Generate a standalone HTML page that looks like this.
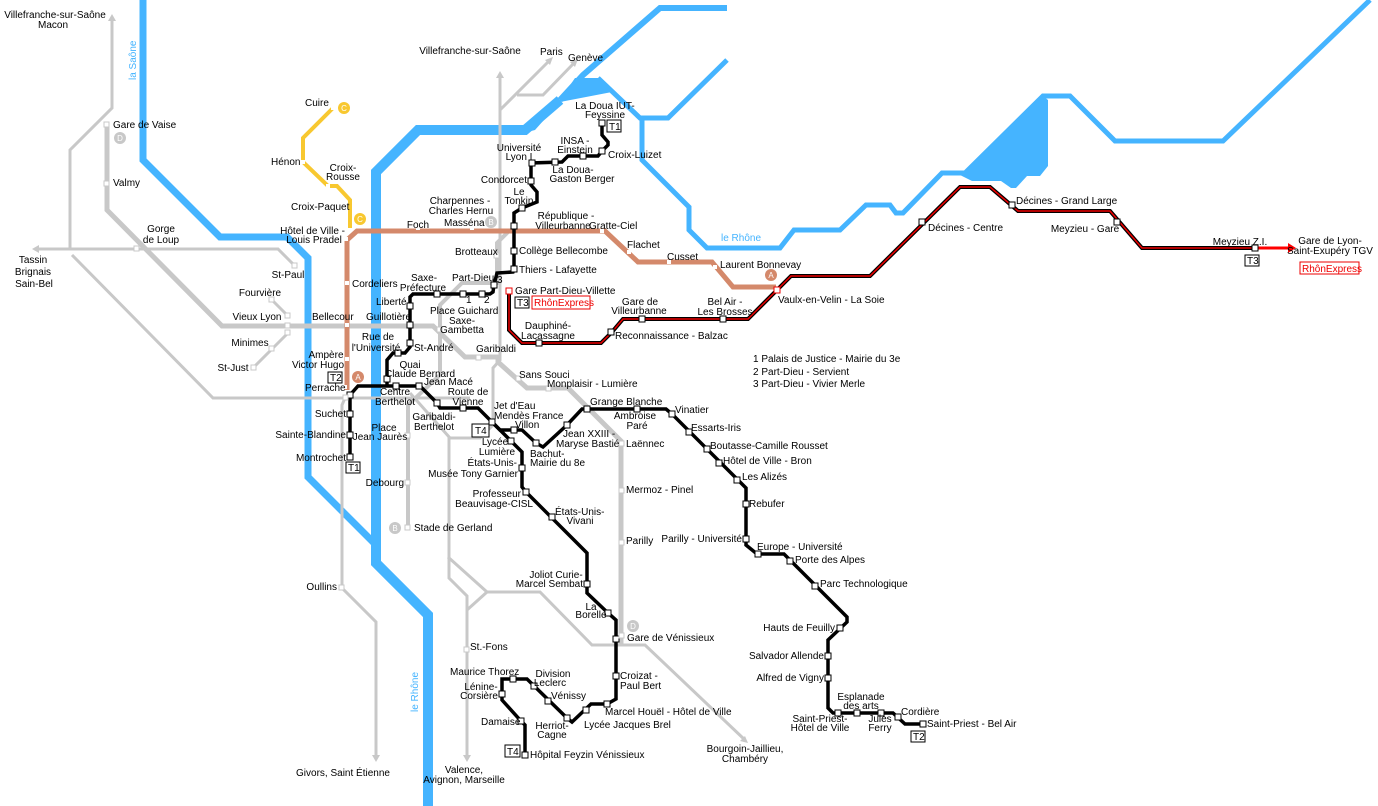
<!DOCTYPE html>
<html><head><meta charset="utf-8"><style>
html,body{margin:0;padding:0;background:#fff;}
svg{display:block;}
text{font-family:"Liberation Sans",sans-serif;font-size:10px;fill:#000;}
.c{text-anchor:middle}.e{text-anchor:end}
.g{fill:none;stroke:#c8c8c8;stroke-width:3}
.gh{fill:none;stroke:#c8c8c8;stroke-width:5}
.t{fill:none;stroke:#000;stroke-width:3.5}
.s{fill:#fff;stroke:#000;stroke-width:1}
.sg{fill:#fff;stroke:#c8c8c8;stroke-width:1}
.box{fill:#fff;stroke:#000;stroke-width:1}
</style></head><body>
<svg width="1378" height="806" viewBox="0 0 1378 806" xmlns="http://www.w3.org/2000/svg">
<g fill="none" stroke="#45b4ff" stroke-linejoin="miter">
<polyline stroke-width="7" points="143,0 143,160 220,237 287,237 308,258 308,477 374,543"/>
<polyline stroke-width="10" points="428,806 428,615 376,563 376,172 418,130 525,130 560,100"/>
<polyline stroke-width="6" points="560,100 583,75 660,8 727,8"/>
<polyline stroke-width="5" points="598,78 640,118 668,118 727,60"/>
<polyline stroke-width="5" points="642,118 642,160 689,207 689,230 707,248 780,248 794,230 840,230 866,205 890,205 896,213 903,213 942,173 965,173 1043,96 1070,96 1115,141 1223,141 1370,0"/>
</g>
<polygon fill="#45b4ff" points="520,134 560,100 575,78 600,78 612,92 560,102 535,130"/>
<polygon fill="#45b4ff" points="960,175 1043,96 1048,100 1048,166 1040,176 1027,176 1016,188 1011,188 1001,181 972,181"/>
<text x="0" y="0" transform="translate(136,80) rotate(-90)" style="fill:#45b4ff">la Saône</text>
<text x="721" y="241" style="fill:#45b4ff">le Rhône</text>
<text x="0" y="0" transform="translate(418,712) rotate(-90)" style="fill:#45b4ff">le Rhône</text>

<g class="g">
<polyline points="112,18 112,108 70,150 70,249 38,249"/>
<polyline points="70,249 278,249 295,266"/>
<polyline points="72,255 213,398 470,398"/>
<polyline points="345,398 342,405 342,588 376,622 376,758"/>
<polyline points="500,75 500,360 493,368 493,425 480,438 449,438 449,578 467,596 467,758"/>
<polyline points="410,393 450,438"/>
<polyline points="448,557 487,592 540,592 592,645 645,645 745,740"/>
<polyline points="487,592 467,610"/>
<polyline points="500,110 550,60"/>
<polyline points="517,95 543,95 575,62"/>
<polyline points="272,300 288,316"/>
<polyline points="288,333 272,349 254,367"/>
</g>
<g fill="#c8c8c8"><polygon points="112,14 108,21 116,21"/><polygon points="32,249 39,245 39,253"/><polygon points="500,71 496,78 504,78"/><polygon points="553,57 545,60 550,65"/><polygon points="578,59 570,62 575,67"/><polygon points="376,762 372,755 380,755"/><polygon points="467,762 463,755 471,755"/><polygon points="748,743 740,741 745,736"/></g>
<polyline class="gh" points="107,125 107,210 222,326 433,326 465,357 498,357 498,362 527,388 568,388 621,441 621,645"/>
<polyline class="g" style="stroke-width:4" points="510,230 497,243 497,283 462,283 440,305 440,375 408,405 408,528"/>

<polyline fill="none" stroke="#f8c830" stroke-width="4" points="333,108 303,138 303,162 328,186 337,186 350,200 350,232"/>
<polyline fill="none" stroke="#d4896b" stroke-width="5" points="347,390 347,240 357,231 605,231 638,262 712,262 733,287 776,287"/>

<polyline fill="none" stroke="#000" stroke-width="4" points="509,291 509,330 522,343 601,343 612,332 623,319 748,319 791,276 870,276 960,187 990,187 1018,211 1110,211 1142,248 1255,248"/>
<polyline fill="none" stroke="#e00" stroke-width="1.5" points="509,291 509,330 522,343 601,343 612,332 623,319 748,319 791,276 870,276 960,187 990,187 1018,211 1110,211 1142,248 1255,248"/>
<line x1="1255" y1="248" x2="1290" y2="248" stroke="#f00" stroke-width="3"/>
<polygon fill="#f00" points="1296,248 1288,243 1288,253"/>

<polyline class="t" points="602,123 602,135 608,142 608,145 602,151 598,156 568,156 562,162 531,163 531,185 537,192 537,202 522,208 514,213 514,269 513,272 497,273 494,285 493,292 490,294 413,294 410,297 410,347 405,353 393,353 387,360 387,386"/>
<polyline class="t" points="350,460 350,395 358,386 420,386 437,403 440,408 478,408 492,422 500,430 522,430 536,443 543,447 567,425 582,409 666,409 672,414 746,488 746,545 757,554 784,554 847,617 847,622 828,640 828,708 833,713 893,713 905,724 923,724"/>
<polyline class="t" points="492,422 511,441 522,452 522,487 526,492 587,553 587,593 608,613 616,620 616,699 607,704 591,704 572,722 567,718 527,679 502,679 502,700 521,721 525,725 525,755"/>

<g class="s">
<rect x="599" y="120" width="6" height="6"/><rect x="599" y="148" width="6" height="6"/><rect x="580" y="153" width="6" height="6"/><rect x="552" y="159" width="6" height="6"/><rect x="529" y="160" width="6" height="6"/><rect x="528" y="178" width="6" height="6"/><rect x="519" y="205" width="6" height="6"/><rect x="511" y="223" width="6" height="6"/><rect x="511" y="248" width="6" height="6"/><rect x="511" y="266" width="6" height="6"/><rect x="491" y="282" width="6" height="6"/><rect x="479" y="291" width="6" height="6"/><rect x="460" y="291" width="6" height="6"/><rect x="434" y="291" width="6" height="6"/><rect x="407" y="303" width="6" height="6"/><rect x="407" y="322" width="6" height="6"/><rect x="407" y="340" width="6" height="6"/><rect x="395" y="350" width="6" height="6"/><rect x="384" y="376" width="6" height="6"/>
<rect x="347" y="392" width="6" height="6"/><rect x="347" y="411" width="6" height="6"/><rect x="347" y="432" width="6" height="6"/><rect x="347" y="454" width="6" height="6"/><rect x="393" y="383" width="6" height="6"/><rect x="416" y="383" width="6" height="6"/><rect x="434" y="400" width="6" height="6"/><rect x="460" y="405" width="6" height="6"/><rect x="489" y="419" width="6" height="6"/><rect x="511" y="427" width="6" height="6"/><rect x="533" y="440" width="6" height="6"/><rect x="564" y="422" width="6" height="6"/><rect x="584" y="406" width="6" height="6"/><rect x="634" y="406" width="6" height="6"/><rect x="669" y="411" width="6" height="6"/><rect x="686" y="429" width="6" height="6"/><rect x="704" y="446" width="6" height="6"/><rect x="716" y="460" width="6" height="6"/><rect x="734" y="477" width="6" height="6"/><rect x="743" y="501" width="6" height="6"/><rect x="743" y="536" width="6" height="6"/><rect x="755" y="551" width="6" height="6"/><rect x="787" y="558" width="6" height="6"/><rect x="812" y="583" width="6" height="6"/><rect x="837" y="625" width="6" height="6"/><rect x="825" y="653" width="6" height="6"/><rect x="825" y="675" width="6" height="6"/><rect x="835" y="710" width="6" height="6"/><rect x="854" y="710" width="6" height="6"/><rect x="878" y="710" width="6" height="6"/><rect x="895" y="714" width="6" height="6"/><rect x="920" y="721" width="6" height="6"/>
<rect x="508" y="438" width="6" height="6"/><rect x="519" y="465" width="6" height="6"/><rect x="523" y="489" width="6" height="6"/><rect x="549" y="514" width="6" height="6"/><rect x="584" y="581" width="6" height="6"/><rect x="605" y="610" width="6" height="6"/><rect x="613" y="636" width="6" height="6"/><rect x="613" y="673" width="6" height="6"/><rect x="604" y="701" width="6" height="6"/><rect x="583" y="707" width="6" height="6"/><rect x="564" y="715" width="6" height="6"/><rect x="545" y="698" width="6" height="6"/><rect x="531" y="683" width="6" height="6"/><rect x="510" y="676" width="6" height="6"/><rect x="499" y="691" width="6" height="6"/><rect x="518" y="718" width="6" height="6"/><rect x="522" y="752" width="6" height="6"/>
<rect x="536" y="340" width="6" height="6"/><rect x="608" y="329" width="6" height="6"/><rect x="639" y="316" width="6" height="6"/><rect x="720" y="316" width="6" height="6"/><rect x="919" y="219" width="6" height="6"/><rect x="1009" y="202" width="6" height="6"/><rect x="1114" y="219" width="6" height="6"/><rect x="1252" y="245" width="6" height="6"/>
</g>
<rect x="506" y="288" width="6" height="6" fill="#fff" stroke="#e00"/>
<rect x="774" y="287" width="6" height="6" fill="#fff" stroke="#e00"/>
<g class="sg">
<rect x="104" y="122" width="5" height="5"/><rect x="104" y="181" width="5" height="5"/><rect x="134" y="246" width="5" height="5"/><rect x="285" y="313" width="5" height="5"/><rect x="285" y="323" width="5" height="5"/><rect x="285" y="330" width="5" height="5"/><rect x="269" y="297" width="5" height="5"/><rect x="269" y="346" width="5" height="5"/><rect x="251" y="365" width="5" height="5"/><rect x="292" y="263" width="5" height="5"/><rect x="437" y="327" width="5" height="5"/><rect x="476" y="355" width="5" height="5"/><rect x="516" y="376" width="5" height="5"/><rect x="546" y="386" width="5" height="5"/><rect x="619" y="441" width="5" height="5"/><rect x="619" y="488" width="5" height="5"/><rect x="619" y="540" width="5" height="5"/><rect x="619" y="633" width="5" height="5"/><rect x="494" y="253" width="5" height="5"/><rect x="405" y="433" width="5" height="5"/><rect x="405" y="480" width="5" height="5"/><rect x="405" y="525" width="5" height="5"/><rect x="339" y="585" width="5" height="5"/><rect x="464" y="647" width="5" height="5"/><rect x="343" y="395" width="5" height="5"/>
</g>
<g fill="#fff"><rect x="416" y="226" width="4" height="4"/><rect x="470" y="226" width="4" height="4"/><rect x="344" y="237" width="4" height="4"/><rect x="345" y="281" width="4" height="4"/><rect x="345" y="323" width="4" height="4"/><rect x="345" y="357" width="4" height="4"/><rect x="343" y="385" width="4" height="4"/><rect x="600" y="229" width="4" height="4"/><rect x="627" y="250" width="4" height="4"/><rect x="667" y="260" width="4" height="4"/><rect x="713" y="265" width="4" height="4"/><rect x="348" y="228" width="4" height="4"/><rect x="326" y="184" width="4" height="4"/><rect x="301" y="160" width="4" height="4"/><rect x="331" y="106" width="4" height="4"/></g>
<g><circle cx="344" cy="108" r="6" fill="#f8c830"/><circle cx="360" cy="219" r="6" fill="#f8c830"/><circle cx="771" cy="275" r="6" fill="#d4896b"/><circle cx="358" cy="377" r="6" fill="#d4896b"/><circle cx="491" cy="222" r="6" fill="#c8c8c8"/><circle cx="395" cy="528" r="6" fill="#c8c8c8"/><circle cx="120" cy="138" r="6" fill="#c8c8c8"/><circle cx="633" cy="626" r="6" fill="#c8c8c8"/></g>
<g><text x="344" y="111" style="fill:#fff;font-size:8px" class="c">C</text><text x="360" y="222" style="fill:#fff;font-size:8px" class="c">C</text><text x="771" y="278" style="fill:#fff;font-size:8px" class="c">A</text><text x="358" y="380" style="fill:#fff;font-size:8px" class="c">A</text><text x="491" y="225" style="fill:#fff;font-size:8px" class="c">B</text><text x="395" y="531" style="fill:#fff;font-size:8px" class="c">B</text><text x="120" y="141" style="fill:#fff;font-size:8px" class="c">D</text><text x="633" y="629" style="fill:#fff;font-size:8px" class="c">D</text></g>

<rect class="box" x="328" y="372" width="14" height="11"/><text x="330" y="381">T2</text>
<rect class="box" x="346" y="462" width="14" height="11"/><text x="348" y="471">T1</text>
<rect class="box" x="472" y="424" width="17" height="13"/><text x="475" y="434">T4</text>
<rect class="box" x="505" y="745" width="15" height="12"/><text x="507" y="755">T4</text>
<rect class="box" x="607" y="120" width="14" height="12"/><text x="609" y="130">T1</text>
<rect class="box" x="515" y="297" width="14" height="11"/><text x="517" y="306">T3</text>
<rect x="532" y="296" width="58" height="13" fill="#fff" stroke="#e00"/><text x="534" y="306" style="fill:#e00">RhônExpress</text>
<rect class="box" x="1245" y="255" width="14" height="11"/><text x="1247" y="264">T3</text>
<rect x="1300" y="262" width="59" height="12" fill="#fff" stroke="#e00"/><text x="1302" y="272" style="fill:#e00">RhônExpress</text>
<rect class="box" x="911" y="731" width="14" height="11"/><text x="913" y="740">T2</text>

<g>
<text class="c" x="55" y="18">Villefranche-sur-Saône</text><text class="c" x="53" y="28">Macon</text>
<text x="113" y="128">Gare de Vaise</text><text x="113" y="186">Valmy</text>
<text class="c" x="161" y="232">Gorge</text><text class="c" x="161" y="243">de Loup</text>
<text class="c" x="33" y="263">Tassin</text><text class="c" x="33" y="275">Brignais</text><text class="c" x="34" y="287">Sain-Bel</text>
<text class="c" x="288" y="278">St-Paul</text><text class="c" x="260" y="296">Fourvière</text><text class="c" x="257" y="320">Vieux Lyon</text><text class="c" x="250" y="346">Minimes</text><text class="c" x="233" y="371">St-Just</text>
<text x="312" y="320">Bellecour</text><text x="366" y="320">Guillotière</text><text x="352" y="287">Cordeliers</text>
<text class="e" x="345" y="234">Hôtel de Ville -</text><text class="c" x="314" y="243">Louis Pradel</text>
<text x="291" y="210">Croix-Paquet</text><text class="c" x="343" y="171">Croix-</text><text class="c" x="343" y="180">Rousse</text>
<text x="271" y="165">Hénon</text><text x="305" y="106">Cuire</text>
<text class="c" x="418" y="228">Foch</text><text x="444" y="226">Masséna</text>
<text class="c" x="460" y="204">Charpennes -</text><text class="c" x="461" y="214">Charles Hernu</text>
<text x="455" y="255">Brotteaux</text>
<text class="c" x="424" y="281">Saxe-</text><text class="c" x="423" y="291">Préfecture</text><text x="452" y="281">Part-Dieu</text>
<text x="376" y="305">Liberté</text><text x="430" y="314">Place Guichard</text><text class="c" x="462" y="324">Saxe-</text><text class="c" x="462" y="333">Gambetta</text>
<text x="466" y="303">1</text><text x="484" y="303">2</text><text x="497" y="283">3</text>
<text class="c" x="378" y="340">Rue de</text><text class="c" x="376" y="351">l'Université</text><text x="414" y="351">St-André</text>
<text class="c" x="410" y="368">Quai</text><text class="c" x="420" y="377">Claude Bernard</text><text x="476" y="352">Garibaldi</text>
<text class="c" x="326" y="358">Ampère</text><text class="c" x="318" y="368">Victor Hugo</text><text x="305" y="391">Perrache</text>
<text class="c" x="395" y="395">Centre</text><text class="c" x="395" y="405">Berthelot</text><text x="424" y="385">Jean Macé</text>
<text class="c" x="468" y="395">Route de</text><text class="c" x="468" y="405">Vienne</text>
<text class="c" x="434" y="420">Garibaldi-</text><text class="c" x="434" y="430">Berthelot</text>
<text x="494" y="409">Jet d'Eau</text><text x="494" y="419">Mendès France</text><text x="515" y="428">Villon</text>
<text class="c" x="495" y="445">Lycée</text><text class="c" x="497" y="455">Lumière</text>
<text class="e" x="517" y="466">États-Unis-</text><text class="e" x="518" y="477">Musée Tony Garnier</text>
<text class="e" x="521" y="497">Professeur</text><text class="e" x="533" y="507">Beauvisage-CISL</text>
<text x="555" y="515">États-Unis-</text><text class="c" x="580" y="524">Vivani</text>
<text x="563" y="437">Jean XXIII -</text><text x="556" y="447">Maryse Bastié</text>
<text x="530" y="457">Bachut-</text><text x="530" y="466">Mairie du 8e</text>
<text x="519" y="378">Sans Souci</text><text x="547" y="387">Monplaisir - Lumière</text>
<text x="590" y="405">Grange Blanche</text><text class="c" x="635" y="419">Ambroise</text><text class="c" x="637" y="429">Paré</text>
<text x="626" y="447">Laënnec</text><text x="675" y="413">Vinatier</text><text x="691" y="431">Essarts-Iris</text>
<text x="710" y="449">Boutasse-Camille Rousset</text><text x="723" y="464">Hôtel de Ville - Bron</text><text x="742" y="480">Les Alizés</text>
<text x="749" y="507">Rebufer</text><text class="e" x="742" y="542">Parilly - Université</text><text x="757" y="550">Europe - Université</text>
<text x="795" y="563">Porte des Alpes</text><text x="820" y="587">Parc Technologique</text>
<text class="e" x="835" y="631">Hauts de Feuilly</text><text class="e" x="824" y="659">Salvador Allende</text><text class="e" x="824" y="681">Alfred de Vigny</text>
<text class="c" x="861" y="700">Esplanade</text><text class="c" x="861" y="709">des arts</text>
<text class="c" x="820" y="722">Saint-Priest-</text><text class="c" x="820" y="731">Hôtel de Ville</text>
<text class="c" x="880" y="722">Jules</text><text class="c" x="880" y="731">Ferry</text>
<text x="901" y="715">Cordière</text><text x="927" y="727">Saint-Priest - Bel Air</text>
<text x="626" y="493">Mermoz - Pinel</text><text x="626" y="544">Parilly</text>
<text class="c" x="556" y="578">Joliot Curie-</text><text class="e" x="583" y="587">Marcel Sembat</text>
<text class="c" x="591" y="610">La</text><text class="c" x="591" y="618">Borelle</text>
<text x="627" y="641">Gare de Vénissieux</text><text x="620" y="679">Croizat -</text><text x="620" y="689">Paul Bert</text>
<text x="605" y="715">Marcel Houël - Hôtel de Ville</text><text x="584" y="728">Lycée Jacques Brel</text>
<text class="c" x="552" y="729">Herriot-</text><text class="c" x="552" y="738">Cagne</text>
<text x="551" y="699">Vénissy</text><text class="c" x="553" y="677">Division</text><text class="c" x="550" y="686">Leclerc</text>
<text x="450" y="675">Maurice Thorez</text><text class="c" x="481" y="690">Lénine-</text><text class="c" x="479" y="699">Corsière</text>
<text x="481" y="725">Damaise</text><text x="530" y="758">Hôpital Feyzin Vénissieux</text>
<text x="470" y="650">St.-Fons</text>
<text class="c" x="464" y="773">Valence,</text><text class="c" x="464" y="783">Avignon, Marseille</text>
<text class="c" x="745" y="752">Bourgoin-Jaillieu,</text><text class="c" x="745" y="762">Chambéry</text>
<text class="c" x="343" y="776">Givors, Saint Étienne</text>
<text class="e" x="337" y="590">Oullins</text><text class="e" x="404" y="486">Debourg</text><text x="414" y="531">Stade de Gerland</text>
<text class="c" x="384" y="431">Place</text><text class="c" x="380" y="440">Jean Jaurès</text>
<text class="e" x="346" y="417">Suchet</text><text class="e" x="346" y="438">Sainte-Blandine</text><text class="e" x="346" y="461">Montrochet</text>
<text class="c" x="519" y="151">Université</text><text class="c" x="519" y="160">Lyon I</text>
<text class="e" x="527" y="183">Condorcet</text><text class="c" x="519" y="195">Le</text><text class="c" x="519" y="204">Tonkin</text>
<text class="c" x="566" y="219">République -</text><text class="c" x="563" y="229">Villeurbanne</text><text x="589" y="229">Gratte-Ciel</text>
<text x="519" y="254">Collège Bellecombe</text><text x="519" y="273">Thiers - Lafayette</text><text x="515" y="294">Gare Part-Dieu-Villette</text>
<text class="c" x="573" y="173">La Doua-</text><text class="c" x="582" y="182">Gaston Berger</text>
<text class="c" x="575" y="144">INSA -</text><text class="c" x="575" y="153">Einstein</text><text x="608" y="158">Croix-Luizet</text>
<text class="c" x="605" y="109">La Doua IUT-</text><text class="c" x="605" y="118">Feyssine</text>
<text class="c" x="470" y="54">Villefranche-sur-Saône</text><text x="540" y="55">Paris</text><text x="568" y="61">Genève</text>
<text x="627" y="248">Flachet</text><text x="667" y="260">Cusset</text><text x="720" y="268">Laurent Bonnevay</text>
<text class="c" x="640" y="305">Gare de</text><text class="c" x="639" y="314">Villeurbanne</text>
<text class="c" x="725" y="305">Bel Air -</text><text class="c" x="725" y="315">Les Brosses</text>
<text class="c" x="548" y="329">Dauphiné-</text><text class="c" x="548" y="339">Lacassagne</text>
<text x="615" y="339">Reconnaissance - Balzac</text><text x="778" y="303">Vaulx-en-Velin -  La Soie</text>
<text x="928" y="231">Décines - Centre</text><text x="1016" y="204">Décines - Grand Large</text><text class="c" x="1085" y="232">Meyzieu - Gare</text>
<text class="c" x="1240" y="245">Meyzieu Z.I.</text>
<text class="c" x="1330" y="244">Gare de Lyon-</text><text class="c" x="1330" y="254">Saint-Exupéry TGV</text>
<text x="753" y="362">1  Palais de Justice - Mairie du 3e</text><text x="753" y="375">2  Part-Dieu - Servient</text><text x="753" y="387">3  Part-Dieu - Vivier Merle</text>
</g>
</svg>
</body></html>
